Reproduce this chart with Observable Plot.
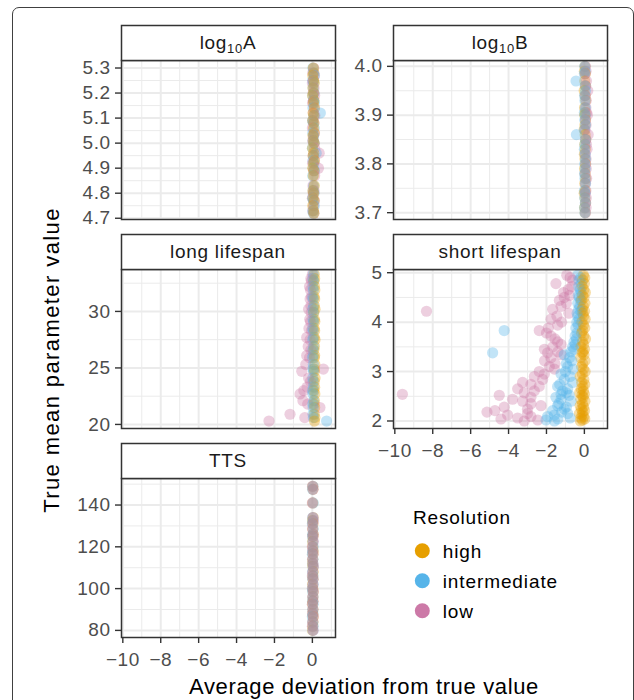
<!DOCTYPE html>
<html><head><meta charset="utf-8">
<script src="https://cdn.jsdelivr.net/npm/d3@7"></script>
<script src="https://cdn.jsdelivr.net/npm/@observablehq/plot@0.6"></script>
<style>
html,body{margin:0;padding:0;background:#fff;}
#fig{position:relative;width:634px;height:700px;overflow:hidden;background:#fff;}
#border{position:absolute;left:12px;top:7px;width:622px;height:740px;box-sizing:border-box;border:1.2px solid #404040;border-radius:7px;}
</style></head><body>
<div id="fig"><div id="border"></div></div>
<script>
// ---------- categories & colours ----------
const resolutions = ["high", "intermediate", "low"];
const resColors = ["#E69F00", "#56B4E9", "#CC79A7"];

// ---------- shared x axis ----------
const xMajorTicks = [-10, -8, -6, -4, -2, 0];
const xMinorTicks = [-9, -7, -5, -3, -1, 1];

// ---------- log10A ----------
const logA_y = [5.30, 5.28, 5.27, 5.25, 5.24, 5.22, 5.20, 5.19, 5.17, 5.16, 5.14, 5.12, 5.11, 5.09, 5.08, 5.06, 5.04, 5.03, 5.01, 5.00, 4.98, 4.96, 4.95, 4.93, 4.92, 4.90, 4.89, 4.87, 4.83, 4.81, 4.80, 4.78, 4.77, 4.75, 4.73, 4.72];
const logA_xHigh = [0.05, 0.08, 0.02, 0.06, 0.10, 0.03, 0.07, 0.01, 0.09, 0.05, 0.11, 0.04, 0.07, 0.02, 0.08, 0.06, 0.10, 0.03, 0.05, 0.09, 0.01, 0.07, 0.04, 0.11, 0.06, 0.02, 0.08, 0.05, 0.10, 0.03, 0.07, 0.04, 0.09, 0.02, 0.06, 0.08];
const logA_xInt = [0.03, 0.06, 0.10, 0.01, 0.07, 0.04, 0.09, 0.02, 0.06, 0.11, 0.03, 0.42, 0.08, 0.01, 0.05, 0.10, 0.02, 0.07, 0.04, 0.09, 0.00, 0.20, 0.06, 0.03, 0.08, 0.05, 0.11, 0.02, 0.07, 0.04, 0.09, 0.01, 0.06, 0.10, 0.03, 0.05];
const logA_xLow = [0.07, 0.02, 0.11, 0.05, 0.00, 0.09, 0.04, 0.12, 0.06, 0.01, 0.10, 0.05, 0.13, 0.03, 0.08, 0.00, 0.11, 0.06, 0.02, 0.09, 0.12, 0.36, 0.04, 0.10, 0.01, 0.32, 0.07, 0.12, 0.03, 0.09, 0.05, 0.00, 0.11, 0.06, 0.02, 0.08];
const logA_yTicks = [4.7, 4.8, 4.9, 5.0, 5.1, 5.2, 5.3];
const logA_yMinor = [4.75, 4.85, 4.95, 5.05, 5.15, 5.25];

// ---------- log10B ----------
const logB_y = [4.00, 3.99, 3.985, 3.97, 3.96, 3.95, 3.94, 3.93, 3.915, 3.905, 3.90, 3.89, 3.88, 3.87, 3.86, 3.85, 3.84, 3.83, 3.82, 3.81, 3.80, 3.79, 3.78, 3.77, 3.76, 3.745, 3.74, 3.73, 3.72, 3.71, 3.70];
const logB_xHigh = [0.03, 0.00, 0.05, 0.02, 0.06, -0.01, 0.04, 0.07, 0.01, 0.05, 0.02, 0.06, 0.03, -0.01, 0.04, 0.07, 0.02, 0.05, 0.00, 0.03, 0.06, 0.01, 0.04, 0.07, 0.02, 0.05, -0.01, 0.03, 0.06, 0.01, 0.04];
const logB_xInt = [0.02, 0.05, 0.00, -0.44, 0.04, 0.06, 0.01, 0.03, 0.05, 0.00, 0.04, 0.02, 0.06, 0.01, -0.42, 0.05, 0.03, 0.00, 0.04, 0.06, 0.02, 0.05, 0.01, 0.03, 0.06, 0.00, 0.04, 0.02, 0.05, 0.01, 0.03];
const logB_xLow = [0.06, 0.09, 0.04, 0.11, 0.07, 0.18, 0.05, 0.10, 0.08, 0.12, 0.16, 0.06, 0.09, 0.04, 0.20, 0.08, 0.11, 0.14, 0.05, 0.09, 0.07, 0.10, 0.04, 0.12, 0.06, 0.08, 0.05, 0.10, 0.07, 0.09, 0.06];
const logB_yTicks = [3.7, 3.8, 3.9, 4.0];
const logB_yMinor = [3.75, 3.85, 3.95];

// ---------- long lifespan ----------
const long_y = [33.3, 32.9, 32.7, 32.2, 31.9, 31.3, 31.1, 30.5, 30.2, 29.9, 29.3, 29.1, 28.5, 28.3, 27.7, 27.5, 26.9, 26.6, 26.1, 25.9, 25.3, 24.9, 24.7, 24.1, 23.8, 23.3, 23.0, 22.7, 22.1, 21.8, 21.5, 20.9, 20.6, 20.3];
const long_xHigh = [0.10, 0.12, 0.08, 0.11, 0.13, 0.09, 0.12, 0.10, 0.14, 0.08, 0.11, 0.13, 0.09, 0.12, 0.10, 0.14, 0.11, 0.08, 0.12, 0.10, 0.13, 0.09, 0.11, 0.14, 0.10, 0.12, 0.08, 0.13, 0.11, 0.09, 0.12, 0.10, 0.13, 0.11];
const long_xInt = [0.05, 0.02, 0.06, 0.03, 0.05, 0.01, 0.04, 0.06, 0.02, 0.05, 0.03, 0.06, 0.01, 0.04, 0.05, 0.02, 0.06, 0.03, 0.04, 0.01, 0.05, 0.03, 0.06, 0.02, 0.04, 0.05, 0.01, 0.03, 0.06, 0.02, 0.04, 0.03, 0.05, 0.75];
const long_xLow = [0.00, -0.08, -0.05, -0.15, -0.10, -0.05, -0.12, -0.08, -0.20, -0.06, -0.14, -0.10, -0.18, -0.05, -0.30, -0.12, -0.22, -0.08, -0.30, -0.15, -0.35, 0.58, -0.56, -0.20, -0.10, -0.28, -0.45, -0.65, -0.50, -0.25, 0.40, -1.18, -0.40, -2.29];
const long_yTicks = [20, 25, 30];
const long_yMinor = [22.5, 27.5, 32.5];

// ---------- short lifespan ----------
const short_y = [4.95, 4.90, 4.85, 4.78, 4.72, 4.66, 4.60, 4.54, 4.50, 4.44, 4.38, 4.32, 4.26, 4.22, 4.18, 4.12, 4.06, 4.00, 3.94, 3.88, 3.83, 3.78, 3.72, 3.66, 3.60, 3.55, 3.50, 3.45, 3.40, 3.38, 3.34, 3.28, 3.22, 3.16, 3.10, 3.05, 3.00, 2.95, 2.90, 2.84, 2.78, 2.74, 2.70, 2.65, 2.61, 2.57, 2.54, 2.52, 2.48, 2.44, 2.40, 2.35, 2.31, 2.28, 2.24, 2.21, 2.18, 2.15, 2.12, 2.09, 2.06, 2.04, 2.02, 2.00];
const short_xHigh = [-0.05, 0.02, -0.08, 0.00, -0.12, -0.03, 0.05, -0.10, -0.02, -0.15, 0.03, -0.06, -0.11, 0.01, -0.08, -0.04, 0.04, -0.13, -0.05, 0.02, -0.09, -0.15, -0.03, 0.06, -0.10, -0.04, -0.18, 0.01, -0.07, -0.12, -0.02, -0.20, 0.03, -0.09, -0.15, -0.05, 0.04, -0.11, -0.22, -0.03, -0.14, 0.02, -0.08, -0.17, -0.05, -0.25, 0.00, -0.12, -0.06, -0.19, 0.03, -0.10, -0.22, -0.04, -0.15, 0.01, -0.08, -0.26, -0.12, -0.03, -0.18, 0.02, -0.10, -0.21];
const short_xInt = [-0.35, -0.20, -0.28, -0.15, -0.30, -0.22, -0.18, -0.32, -0.26, -0.20, -0.35, -0.24, -0.30, -0.18, -0.38, -0.35, -0.28, -0.40, -0.33, -0.45, -4.23, -0.39, -0.49, -0.42, -0.55, -0.48, -0.62, -0.55, -0.70, -4.84, -1.06, -0.78, -0.66, -0.95, -0.88, -0.60, -1.00, -1.23, -0.75, -1.06, -0.62, -1.30, -1.41, -0.88, -1.15, -0.95, -1.23, -0.80, -1.50, -1.23, -0.70, -1.35, -1.41, -0.95, -1.06, -1.67, -1.20, -0.88, -1.58, -1.94, -0.75, -1.40, -2.02, -1.58];
const short_xLow = [-0.93, -0.75, -0.62, -1.50, -0.67, -0.85, -1.10, -0.78, -1.06, -1.32, -0.95, -1.23, -1.67, -8.33, -0.82, -1.45, -1.76, -1.20, -1.41, -1.90, -2.38, -2.00, -1.76, -1.55, -1.41, -1.23, -1.67, -2.11, -1.40, -1.94, -1.23, -1.76, -2.10, -1.55, -1.85, -1.58, -2.38, -2.11, -2.64, -2.20, -3.26, -2.82, -2.38, -3.52, -2.64, -3.17, -9.60, -4.49, -2.82, -3.79, -3.26, -2.82, -2.29, -4.23, -3.00, -4.72, -5.14, -3.00, -4.05, -2.82, -3.52, -4.40, -2.46, -3.17];
const short_yTicks = [2, 3, 4, 5];
const short_yMinor = [2.5, 3.5, 4.5];

// ---------- TTS ----------
const tts_y = [149, 147.5, 141, 134, 132.5, 131, 128.5, 126, 125, 122.5, 120, 118, 116.5, 114, 112, 110.5, 108, 106, 104.5, 102, 100, 98.5, 96, 94, 92.5, 90, 88, 86.5, 84, 82, 80];
const tts_xHigh = [0.02, 0.03, 0.02, 0.04, 0.01, 0.03, 0.02, 0.04, 0.03, 0.01, 0.02, 0.04, 0.03, 0.02, 0.01, 0.03, 0.04, 0.02, 0.03, 0.01, 0.02, 0.04, 0.03, 0.02, 0.01, 0.03, 0.02, 0.04, 0.03, 0.02, 0.01];
const tts_xInt = [0.03, 0.01, 0.04, 0.02, 0.03, 0.00, 0.04, 0.02, 0.01, 0.03, 0.04, 0.02, 0.00, 0.03, 0.02, 0.04, 0.01, 0.03, 0.02, 0.04, 0.00, 0.02, 0.03, 0.01, 0.04, 0.02, 0.03, 0.00, 0.02, 0.04, 0.03];
const tts_xLow = [0.01, 0.04, 0.00, 0.03, 0.05, 0.02, 0.01, 0.04, 0.03, 0.05, 0.00, 0.02, 0.04, 0.01, 0.03, 0.05, 0.02, 0.00, 0.04, 0.03, 0.01, 0.05, 0.02, 0.04, 0.00, 0.03, 0.01, 0.05, 0.02, 0.00, 0.04];
const tts_yTicks = [80, 100, 120, 140];
const tts_yMinor = [90, 110, 130, 150];

// ---------- text ----------
const yTitle = "True mean parameter value";
const xTitle = "Average deviation from true value";
const legendTitle = "Resolution";

// ---------- layout / styling ----------
const FONT = "'Liberation Sans', Arial, Helvetica, sans-serif";
const xDomain = [-10.07, 1.22];
const colLeft = [121, 393];
const rowStripTop = [25, 234, 443];
const STRIP_H = 35, PANEL_W = 214, PANEL_H = 159;

const panels = [
  {title: ["log", "10", "A"], col: 0, row: 0, y: logA_y, xs: {high: logA_xHigh, intermediate: logA_xInt, low: logA_xLow}, yDomain: [4.695, 5.33], yTicks: logA_yTicks, yMinor: logA_yMinor, fmt: ".1f", order: ["low", "intermediate", "high"], xAxis: false},
  {title: ["log", "10", "B"], col: 1, row: 0, y: logB_y, xs: {high: logB_xHigh, intermediate: logB_xInt, low: logB_xLow}, yDomain: [3.686, 4.012], yTicks: logB_yTicks, yMinor: logB_yMinor, fmt: ".1f", order: ["high", "low", "intermediate"], xAxis: false},
  {title: ["long lifespan"], col: 0, row: 1, y: long_y, xs: {high: long_xHigh, intermediate: long_xInt, low: long_xLow}, yDomain: [19.64, 33.71], yTicks: long_yTicks, yMinor: long_yMinor, fmt: "d", order: ["low", "high", "intermediate"], xAxis: false},
  {title: ["short lifespan"], col: 1, row: 1, y: short_y, xs: {high: short_xHigh, intermediate: short_xInt, low: short_xLow}, yDomain: [1.848, 5.065], yTicks: short_yTicks, yMinor: short_yMinor, fmt: "d", order: ["low", "intermediate", "high"], xAxis: true},
  {title: ["TTS"], col: 0, row: 2, y: tts_y, xs: {high: tts_xHigh, intermediate: tts_xInt, low: tts_xLow}, yDomain: [76.6, 152.7], yTicks: tts_yTicks, yMinor: tts_yMinor, fmt: "d", order: ["high", "intermediate", "low"], xAxis: true}
];

function buildRows(p) {
  const rows = [];
  p.y.forEach((yv, i) => p.order.forEach(r => rows.push({res: r, x: p.xs[r][i], y: yv})));
  return rows;
}

const fig = document.getElementById("fig");
const gridColor = "#EBEBEB";

panels.forEach(p => {
  const mL = 60, mR = 12, mT = STRIP_H + 4, mB = p.xAxis ? 48 : 6;
  const PL = colLeft[p.col], ST = rowStripTop[p.row];
  const svg = Plot.plot({
    width: mL + PANEL_W + mR,
    height: mT + PANEL_H + mB,
    marginLeft: mL, marginRight: mR, marginTop: mT, marginBottom: mB,
    style: {position: "absolute", left: (PL - mL) + "px", top: (ST - 4) + "px", background: "transparent",
            fontFamily: FONT, fontSize: "19px", letterSpacing: "0.5px", overflow: "visible", maxWidth: "none"},
    x: {domain: xDomain, axis: null},
    y: {domain: p.yDomain, axis: null},
    color: {domain: resolutions, range: resColors},
    marks: [
      Plot.ruleX(xMinorTicks, {stroke: gridColor, strokeWidth: 1}),
      Plot.ruleY(p.yMinor, {stroke: gridColor, strokeWidth: 1}),
      Plot.ruleX(xMajorTicks, {stroke: gridColor, strokeWidth: 2}),
      Plot.ruleY(p.yTicks, {stroke: gridColor, strokeWidth: 2}),
      Plot.dot(buildRows(p), {x: "x", y: "y", fill: "res", r: 5.6, fillOpacity: 0.36, clip: true}),
      Plot.frame({stroke: "#333333", strokeWidth: 1.5}),
      Plot.axisY({ticks: p.yTicks, tickSize: 6, tickPadding: 5, tickFormat: d3.format(p.fmt),
                  stroke: "#333333", strokeWidth: 1.4, fill: "#4D4D4D", label: null}),
      p.xAxis ? Plot.axisX({ticks: xMajorTicks, tickSize: 6, tickPadding: 9, tickFormat: d3.format("d"),
                  stroke: "#333333", strokeWidth: 1.4, fill: "#4D4D4D", label: null}) : null
    ]
  });
  // facet strip
  const s = d3.select(svg);
  s.append("rect").attr("x", mL + 0.5).attr("y", 4.5).attr("width", PANEL_W).attr("height", STRIP_H)
    .attr("fill", "#fff").attr("stroke", "#333333").attr("stroke-width", 1.5);
  const t = s.append("text").attr("x", mL + PANEL_W / 2).attr("y", 4 + STRIP_H / 2 + 6)
    .attr("text-anchor", "middle").attr("fill", "#1A1A1A")
    .style("font-size", "19px").style("letter-spacing", "0.7px");
  if (p.title.length === 3) {
    t.append("tspan").text(p.title[0]);
    t.append("tspan").attr("dy", 4).style("font-size", "13px").text(p.title[1]);
    t.append("tspan").attr("dy", -4).text(p.title[2]);
  } else {
    t.text(p.title[0]);
  }
  fig.appendChild(svg);
});

// ---------- overlay: axis titles + legend ----------
const colorScale = Plot.scale({color: {type: "ordinal", domain: resolutions, range: resColors}});
const ov = d3.create("svg").attr("width", 634).attr("height", 700)
  .style("position", "absolute").style("left", "0px").style("top", "0px")
  .style("font-family", FONT).style("overflow", "visible");
ov.append("text").attr("transform", "translate(58.5,360) rotate(-90)").attr("text-anchor", "middle")
  .attr("fill", "#000").style("font-size", "22px").style("letter-spacing", "1.4px").text(yTitle);
ov.append("text").attr("x", 364).attr("y", 694).attr("text-anchor", "middle")
  .attr("fill", "#000").style("font-size", "22px").style("letter-spacing", "0.65px").text(xTitle);
ov.append("text").attr("x", 413).attr("y", 524).attr("fill", "#000")
  .style("font-size", "19px").style("letter-spacing", "0.8px").text(legendTitle);
resolutions.forEach((r, i) => {
  const cy = 550.7 + 30 * i;
  ov.append("circle").attr("cx", 422.3).attr("cy", cy).attr("r", 7.5).attr("fill", colorScale.apply(r));
  ov.append("text").attr("x", 442.7).attr("y", cy + 7).attr("fill", "#000")
    .style("font-size", "19px").style("letter-spacing", "0.9px").text(r);
});
fig.appendChild(ov.node());
</script>
</body></html>
